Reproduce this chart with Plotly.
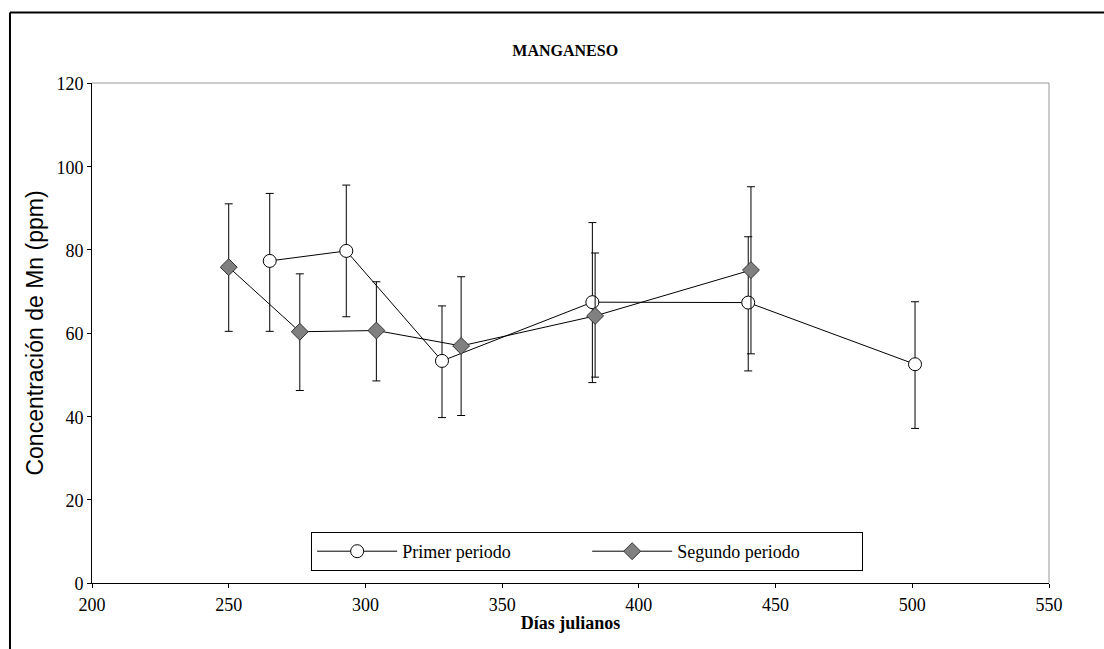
import plotly.graph_objects as go

# Manganese concentration by Julian day, two sampling periods
dias_primer = [265, 293, 328, 383, 440, 501]
mn_primer = [77.3, 79.7, 53.3, 67.4, 67.3, 52.5]
sup_primer = [93.5, 95.5, 66.5, 86.5, 83.1, 67.5]
inf_primer = [60.4, 63.9, 39.7, 48.1, 50.9, 37.1]

dias_segundo = [250, 276, 304, 335, 384, 441]
mn_segundo = [75.8, 60.3, 60.6, 56.9, 64.1, 75.1]
sup_segundo = [91.0, 74.2, 72.3, 73.5, 79.2, 95.1]
inf_segundo = [60.4, 46.2, 48.5, 40.2, 49.4, 55.0]

x_ticks = [200, 250, 300, 350, 400, 450, 500, 550]
y_ticks = [0, 20, 40, 60, 80, 100, 120]

serif = "Liberation Serif"


def err(y, hi, lo):
    return (dict(type="data", symmetric=False,
                 array=[h - v for h, v in zip(hi, y)],
                 arrayminus=[v - l for v, l in zip(y, lo)],
                 color="black", thickness=1, width=4))


fig = go.Figure()
fig.add_trace(go.Scatter(
    x=dias_primer, y=mn_primer, name="Primer periodo",
    mode="lines+markers",
    line=dict(color="black", width=1),
    marker=dict(symbol="circle", size=13, color="white",
                line=dict(color="black", width=1)),
    error_y=err(mn_primer, sup_primer, inf_primer),
))
fig.add_trace(go.Scatter(
    x=dias_segundo, y=mn_segundo, name="Segundo periodo",
    mode="lines+markers",
    line=dict(color="black", width=1),
    marker=dict(symbol="diamond", size=13, color="#808080",
                line=dict(color="#333333", width=1)),
    error_y=err(mn_segundo, sup_segundo, inf_segundo),
))

# outer frame (top and left edges)
fig.add_shape(type="line", xref="paper", yref="paper",
              x0=-0.0857, x1=1.1, y0=1.141, y1=1.141,
              line=dict(color="black", width=2))
fig.add_shape(type="line", xref="paper", yref="paper",
              x0=-0.0857, x1=-0.0857, y0=1.141, y1=-0.2,
              line=dict(color="black", width=2))

fig.update_layout(
    width=1104, height=649,
    margin=dict(l=92, r=55, t=83, b=66),
    paper_bgcolor="white", plot_bgcolor="white",
    title=dict(text="<b>MANGANESO</b>", x=0.512, xanchor="center",
               y=0.923, yanchor="middle",
               font=dict(family=serif, size=16, color="black")),
    showlegend=True,
    legend=dict(orientation="h", x=0.229, y=0.102, xanchor="left", yanchor="top",
                bordercolor="black", borderwidth=1, bgcolor="white",
                entrywidth=180, itemwidth=80, tracegroupgap=0,
                font=dict(family=serif, size=18, color="black")),
    font=dict(family=serif, color="black"),
)

fig.update_xaxes(
    range=[200, 550], tickvals=x_ticks, ticks="outside", ticklen=4,
    tickcolor="black", showline=True, linecolor="black", linewidth=1,
    mirror=False, showgrid=False, zeroline=False, ticklabelstandoff=1,
    tickfont=dict(family=serif, size=18, color="black"),
    title=dict(text="<b>Días julianos</b>", standoff=2,
               font=dict(family=serif, size=18, color="black")),
)
fig.update_yaxes(
    range=[0, 120], tickvals=y_ticks, ticks="outside", ticklen=4,
    tickcolor="black", showline=True, linecolor="black", linewidth=1,
    showgrid=False, zeroline=False, ticklabelshift=1,
    tickfont=dict(family=serif, size=18, color="black"),
    title=dict(text="Concentración de Mn (ppm)", standoff=6,
               font=dict(family="Liberation Sans", size=23, color="black")),
)

# gray top and right plot-area edges
fig.add_shape(type="line", xref="paper", yref="paper", x0=0, x1=1, y0=1, y1=1,
              line=dict(color="#999999", width=1))
fig.add_shape(type="line", xref="paper", yref="paper", x0=1, x1=1, y0=0, y1=1,
              line=dict(color="#999999", width=1))

fig.write_html("out.html")
